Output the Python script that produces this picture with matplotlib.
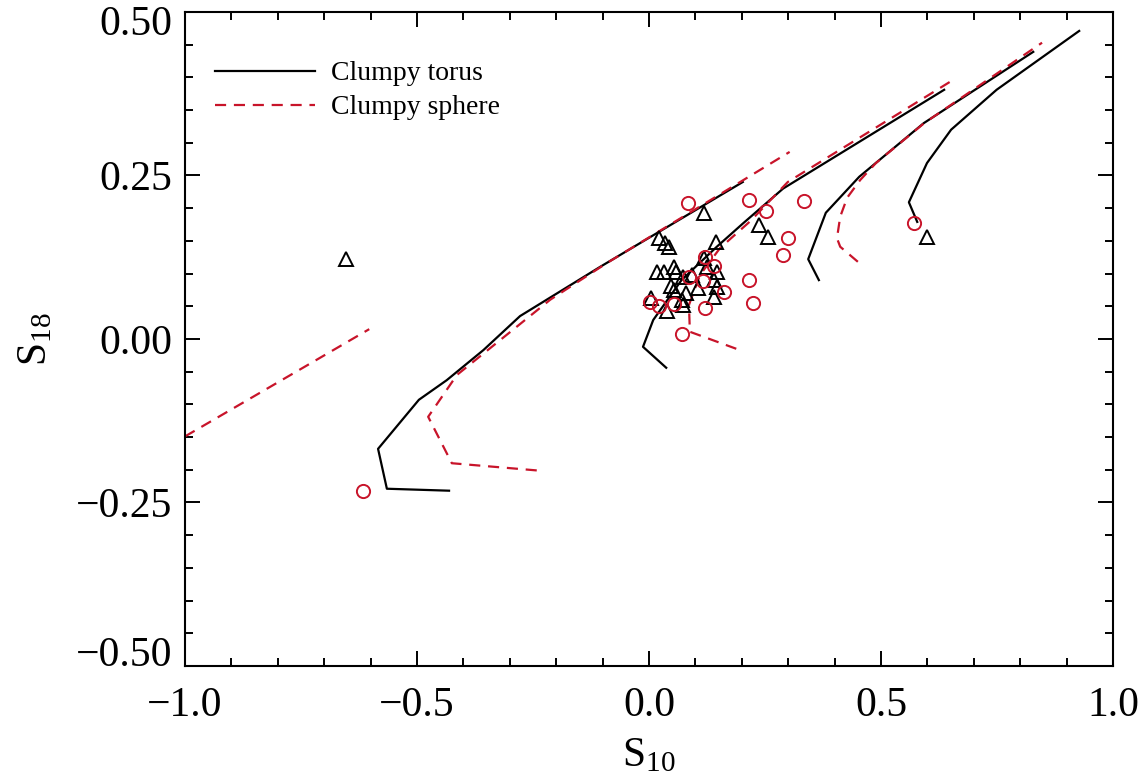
import matplotlib
matplotlib.use("Agg")
from matplotlib import pyplot as plt
from matplotlib.ticker import MultipleLocator, FuncFormatter
from matplotlib.transforms import ScaledTranslation

plt.rcParams['font.family'] = ['Liberation Serif', 'DejaVu Serif']
plt.rcParams['mathtext.fontset'] = 'custom'
plt.rcParams['mathtext.rm'] = 'Liberation Serif'
plt.rcParams['mathtext.it'] = 'Liberation Serif:italic'

RED = '#c8142a'

# clumpy torus model tracks (S10, S18)
torus_x = [
    [-0.431, -0.565, -0.584, -0.496, -0.436, -0.357, -0.278, -0.106, 0.202],
    [0.037, -0.013, 0.009, 0.070, 0.146, 0.203, 0.289, 0.636],
    [0.366, 0.343, 0.381, 0.453, 0.592, 0.828],
    [0.578, 0.560, 0.599, 0.651, 0.749, 0.927],
]
torus_y = [
    [-0.232, -0.229, -0.168, -0.093, -0.063, -0.017, 0.035, 0.110, 0.240],
    [-0.044, -0.012, 0.029, 0.090, 0.141, 0.177, 0.230, 0.381],
    [0.090, 0.122, 0.193, 0.248, 0.330, 0.439],
    [0.179, 0.209, 0.269, 0.320, 0.381, 0.471],
]

# clumpy sphere model tracks
sphere_x = [
    [-1.000, -0.603],
    [-0.242, -0.425, -0.476, -0.414, -0.213, -0.091, 0.303],
    [0.188, 0.088, 0.086, 0.110, 0.153, 0.218, 0.299, 0.655],
    [0.450, 0.412, 0.405, 0.412, 0.427, 0.455, 0.489, 0.593, 0.847],
]
sphere_y = [
    [-0.149, 0.015],
    [-0.201, -0.190, -0.119, -0.055, 0.060, 0.116, 0.286],
    [-0.015, 0.011, 0.052, 0.098, 0.139, 0.180, 0.240, 0.396],
    [0.118, 0.141, 0.154, 0.187, 0.216, 0.243, 0.269, 0.330, 0.453],
]

# observed sources
tri_x = [-0.653, 0.598, 0.119, 0.022, 0.034, 0.043, 0.144, 0.238, 0.257, 0.119,
         0.054, 0.018, 0.032, 0.058, 0.073, 0.092, 0.124, 0.147, 0.139, 0.047,
         0.054, 0.106, 0.147, 0.141, 0.004, 0.080, 0.070, 0.074, 0.039]
tri_y = [0.122, 0.156, 0.192, 0.154, 0.147, 0.140, 0.149, 0.175, 0.156, 0.124,
         0.110, 0.102, 0.102, 0.103, 0.094, 0.098, 0.110, 0.103, 0.090, 0.081,
         0.075, 0.078, 0.080, 0.064, 0.062, 0.070, 0.060, 0.052, 0.042]

circ_x = [0.083, 0.216, 0.252, 0.334, 0.299, 0.288, 0.216, 0.224, 0.121, 0.139,
          0.117, 0.162, 0.121, 0.054, 0.022, 0.002, 0.072, 0.570, -0.617, 0.086]
circ_y = [0.208, 0.213, 0.195, 0.211, 0.154, 0.128, 0.090, 0.055, 0.126, 0.112,
          0.088, 0.072, 0.048, 0.053, 0.050, 0.056, 0.007, 0.177, -0.232, 0.095]

fig = plt.figure(figsize=(11.45, 7.77), dpi=100)
ax = fig.add_axes([0.1616, 0.1429, 0.8105, 0.8417])

for i, (xs, ys) in enumerate(zip(torus_x, torus_y)):
    ax.plot(xs, ys, color='black', lw=1.6,
            label='Clumpy torus' if i == 0 else None)
for i, (xs, ys) in enumerate(zip(sphere_x, sphere_y)):
    ax.plot(xs, ys, color=RED, lw=1.6, dashes=(5, 3.5),
            label='Clumpy sphere' if i == 0 else None)

ax.plot(tri_x, tri_y, ls='none', marker='^', ms=10, mfc='none', mec='black', mew=1.4)
ax.plot(circ_x, circ_y, ls='none', marker='o', ms=9.5, mfc='none', mec=RED, mew=1.4)

ax.set_xlim(-1.0, 1.0)
ax.set_ylim(-0.5, 0.5)
ax.xaxis.set_major_locator(MultipleLocator(0.5))
ax.xaxis.set_minor_locator(MultipleLocator(0.1))
ax.yaxis.set_major_locator(MultipleLocator(0.25))
ax.yaxis.set_minor_locator(MultipleLocator(0.05))
ax.xaxis.set_major_formatter(FuncFormatter(lambda v, p: ('%.1f' % v).replace('-', '\u2212')))
ax.yaxis.set_major_formatter(FuncFormatter(lambda v, p: ('%.2f' % v).replace('-', '\u2212')))
ax.tick_params(which='both', direction='in', top=True, right=True, width=1.4,
               labelsize=30)
ax.tick_params(which='major', length=11)
ax.tick_params(which='minor', length=5.5)
ax.tick_params(axis='x', pad=15)
ax.tick_params(axis='y', pad=9)
for s in ax.spines.values():
    s.set_linewidth(1.5)

ax.set_xlabel(r'S$_{\mathrm{10}}$', fontsize=30, labelpad=8)
ax.set_ylabel(r'S$_{\mathrm{18}}$', fontsize=30, labelpad=15)

ax.legend(loc='upper left', bbox_to_anchor=(0.032, 0.925), frameon=False,
          fontsize=20, handlelength=3.6, handletextpad=0.6, labelspacing=0.3,
          borderpad=0, borderaxespad=0)

# IDL-style: end labels pulled inside the axis range
fig.canvas.draw()
ylabels = ax.get_yticklabels()
for lab in ylabels:
    if lab.get_text() == '0.50':
        lab.set_transform(lab.get_transform() + ScaledTranslation(0, -8 / 100, fig.dpi_scale_trans))
    if lab.get_text() == '\u22120.50':
        lab.set_transform(lab.get_transform() + ScaledTranslation(0, 15 / 100, fig.dpi_scale_trans))

fig.savefig('out.png', dpi=100)
